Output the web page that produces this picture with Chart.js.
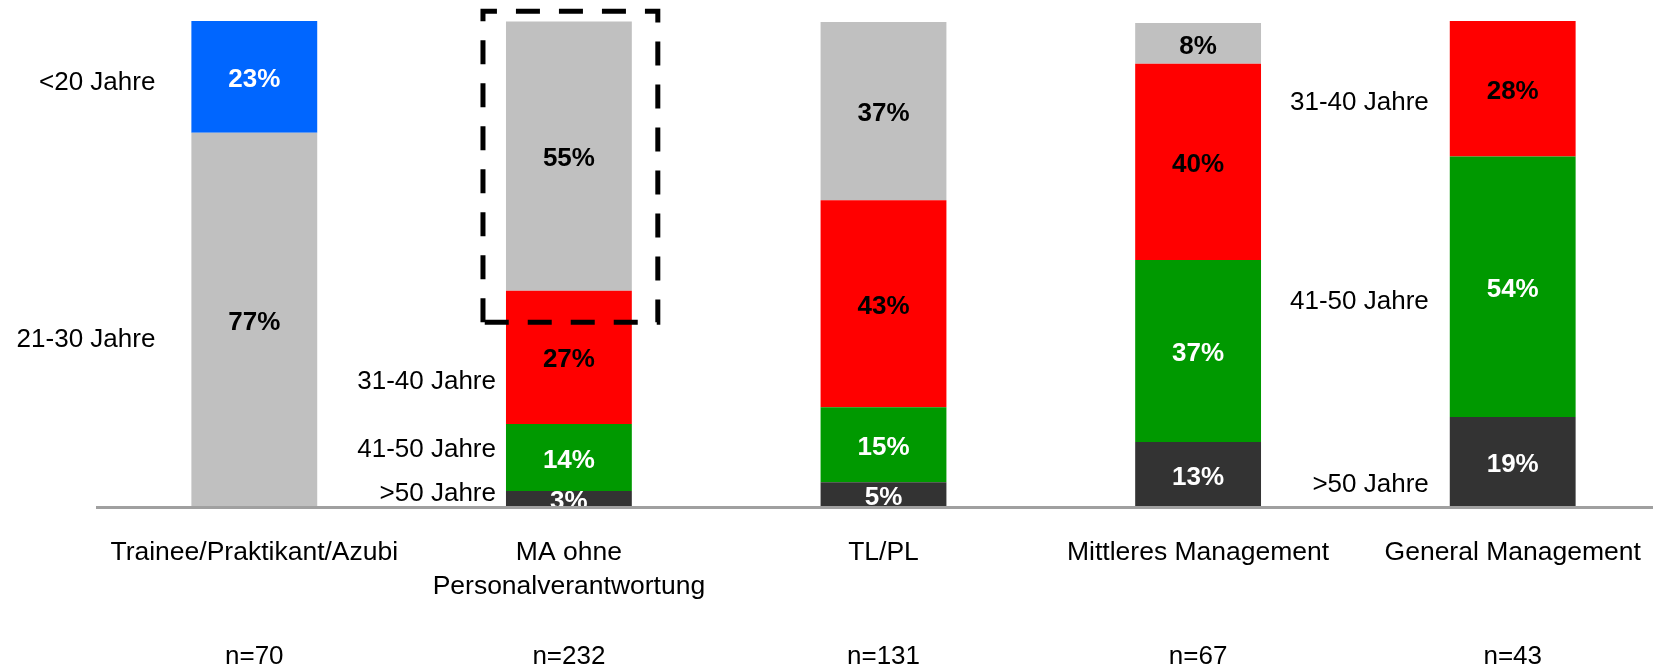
<!DOCTYPE html>
<html lang="de">

<head>
    <meta charset="UTF-8">
    <title>Altersstruktur nach Funktion</title>
    <script src="https://cdn.jsdelivr.net/npm/chart.js@4.4.0/dist/chart.umd.min.js"></script>
    <style>
        html, body { margin: 0; padding: 0; background: #fff; overflow: hidden; }
        #wrap { width: 1670px; height: 670px; }
    </style>
</head>

<body>
    <div id="wrap"><canvas id="chart" width="1670" height="670"></canvas></div>

    <script>
        // Data (percent per age group, bottom to top)
        const categories = ['Trainee/Praktikant/Azubi', ['MA ohne', 'Personalverantwortung'], 'TL/PL', 'Mittleres Management', 'General Management'];
        const sampleSizes = ['n=70', 'n=232', 'n=131', 'n=67', 'n=43'];
        const over50 = [null, 3.3, 5.1, 13.4, 18.5];
        const age41to50 = [null, 13.8, 15.4, 37.4, 53.6];
        const age31to40 = [null, 27.4, 42.6, 40.4, 27.9];
        const age21to30 = [77, 55.4, 36.7, 8.4, null];
        const under20 = [23, null, null, null, null];

        const FONT = '"Liberation Sans", Arial, sans-serif';

        // age group names written beside some bars
        const sideLabels = [
            { text: '<20 Jahre', bar: 0, at: 87.3, gap: 36 },
            { text: '21-30 Jahre', bar: 0, at: 34.4, gap: 36 },
            { text: '31-40 Jahre', bar: 1, at: 25.8, gap: 10 },
            { text: '41-50 Jahre', bar: 1, at: 11.8, gap: 10 },
            { text: '>50 Jahre', bar: 1, at: 2.7, gap: 10 },
            { text: '31-40 Jahre', bar: 4, at: 83.2, gap: 21 },
            { text: '41-50 Jahre', bar: 4, at: 42.2, gap: 21 },
            { text: '>50 Jahre', bar: 4, at: 4.6, gap: 21 }
        ];

        const overlay = {
            id: 'overlay',
            afterDatasetsDraw(chart) {
                const ctx = chart.ctx;
                const area = chart.chartArea;
                ctx.save();
                ctx.beginPath();
                ctx.rect(area.left, 0, area.right - area.left, area.bottom);
                ctx.clip();
                ctx.font = 'bold 26px ' + FONT;
                ctx.textAlign = 'center';
                ctx.textBaseline = 'middle';
                chart.data.datasets.forEach((ds, i) => {
                    chart.getDatasetMeta(i).data.forEach((bar, j) => {
                        const v = ds.data[j];
                        if (v == null) return;
                        ctx.fillStyle = ds.labelColor;
                        ctx.fillText(Math.round(v) + '%', bar.x, (bar.y + bar.base) / 2 + 3);
                    });
                });
                ctx.restore();
            },
            afterDraw(chart) {
                const ctx = chart.ctx;
                const area = chart.chartArea;
                const xs = chart.scales.x;
                const ys = chart.scales.y;
                const bars = chart.getDatasetMeta(3).data;

                ctx.save();
                ctx.fillStyle = '#000';
                ctx.font = '26px ' + FONT;
                ctx.textBaseline = 'middle';
                ctx.textAlign = 'right';
                sideLabels.forEach(l => {
                    const b = bars[l.bar];
                    ctx.fillText(l.text, b.x - b.width / 2 - l.gap, ys.getPixelForValue(l.at));
                });

                ctx.textAlign = 'center';
                sampleSizes.forEach((n, j) => {
                    ctx.fillText(n, xs.getPixelForValue(j), area.bottom + 150);
                });

                // dashed frame around the upper part of "MA ohne Personalverantwortung"
                const b = bars[1];
                const left = b.x - b.width / 2 - 23;
                const right = b.x + b.width / 2 + 26;
                const top = ys.getPixelForValue(102);
                const bottom = ys.getPixelForValue(38);
                ctx.strokeStyle = '#000';
                ctx.lineWidth = 5;
                ctx.setLineDash([24, 19]);
                ctx.beginPath();
                ctx.moveTo(left, bottom);
                ctx.lineTo(left, top);
                ctx.lineTo(right, top);
                ctx.lineTo(right, bottom);
                ctx.closePath();
                ctx.stroke();
                ctx.restore();
            }
        };

        function makeSet(label, data, color, labelColor) {
            return {
                label: label,
                data: data,
                backgroundColor: color,
                labelColor: labelColor,
                borderWidth: 0,
                categoryPercentage: 1,
                barPercentage: 0.4
            };
        }

        new Chart(document.getElementById('chart'), {
            type: 'bar',
            data: {
                labels: categories,
                datasets: [
                    makeSet('>50 Jahre', over50, '#333333', '#fff'),
                    makeSet('41-50 Jahre', age41to50, '#009900', '#fff'),
                    makeSet('31-40 Jahre', age31to40, '#ff0000', '#000'),
                    makeSet('21-30 Jahre', age21to30, '#c0c0c0', '#000'),
                    makeSet('<20 Jahre', under20, '#0066ff', '#fff')
                ]
            },
            options: {
                responsive: false,
                animation: false,
                layout: { padding: { left: 97, right: 0, top: 21, bottom: 0 } },
                plugins: {
                    legend: { display: false },
                    tooltip: { enabled: false }
                },
                scales: {
                    x: {
                        stacked: true,
                        grid: { display: false },
                        border: { display: true, color: '#a0a0a0', width: 3, z: 1 },
                        ticks: {
                            color: '#000',
                            font: { family: FONT, size: 26.5, lineHeight: 1.3 },
                            padding: 20,
                            maxRotation: 0,
                            autoSkip: false
                        },
                        afterFit: s => { s.height = 163; }
                    },
                    y: {
                        stacked: true,
                        display: false,
                        min: 0,
                        max: 100
                    }
                }
            },
            plugins: [overlay]
        });
    </script>
</body>

</html>
